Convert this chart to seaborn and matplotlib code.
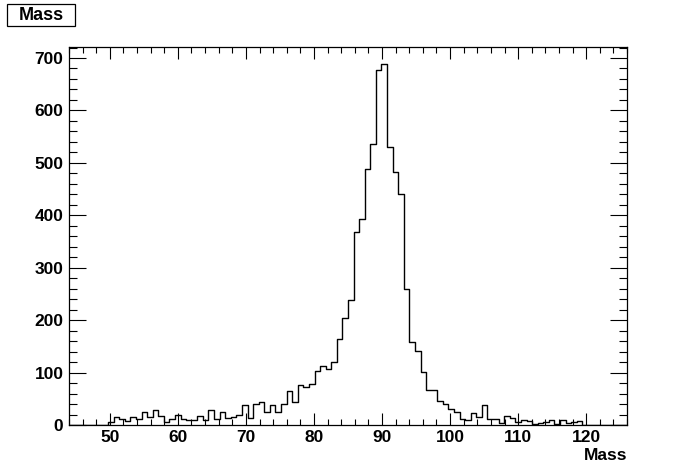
import numpy as np
import pandas as pd
import matplotlib
matplotlib.use("Agg")
import matplotlib.pyplot as plt
from matplotlib.patches import Rectangle
from matplotlib.ticker import MultipleLocator
import seaborn as sns

# ---- data ----
bin_low = 44.0
bin_high = 126.0
n_bins = 100
counts = [
    0, 0, 0, 0, 0, 0, 0, 6, 15, 12,
    7, 15, 12, 25, 15, 29, 18, 6, 12, 20,
    12, 9, 10, 17, 10, 29, 12, 25, 14, 15,
    19, 39, 13, 41, 43, 24, 38, 24, 41, 65,
    43, 76, 72, 78, 103, 112, 106, 120, 164, 204,
    239, 369, 393, 489, 536, 678, 688, 531, 482, 441,
    259, 158, 142, 101, 67, 67, 46, 41, 31, 24,
    11, 9, 22, 15, 38, 11, 11, 3, 17, 14,
    6, 9, 8, 2, 4, 5, 9, 2, 9, 3,
    5, 7, 0, 0, 0, 0, 0, 0, 0, 0,
]
title_text = "Mass"
x_label = "Mass"
y_max = 721

edges = np.linspace(bin_low, bin_high, n_bins + 1)
centers = 0.5 * (edges[:-1] + edges[1:])
df = pd.DataFrame({"mass": centers, "count": counts})

sns.set_style("ticks")
plt.rcParams["font.family"] = ["Liberation Sans", "DejaVu Sans"]
plt.rcParams["font.weight"] = "bold"
for key in ["text.color", "axes.labelcolor", "xtick.color", "ytick.color",
            "axes.edgecolor"]:
    plt.rcParams[key] = "black"

fig = plt.figure(figsize=(6.96, 4.72), dpi=100)
ax = fig.add_axes([69 / 696, 1 - 425 / 472, (627 - 69) / 696, (425 - 47) / 472])

sns.histplot(data=df, x="mass", weights="count", bins=n_bins,
             binrange=(bin_low, bin_high), element="step",
             fill=False, color="black", linewidth=1.0, ax=ax)

ax.set_xlim(bin_low, bin_high)
ax.set_ylim(0, y_max)
ax.xaxis.set_major_locator(MultipleLocator(10))
ax.xaxis.set_minor_locator(MultipleLocator(2))
ax.yaxis.set_major_locator(MultipleLocator(100))
ax.yaxis.set_minor_locator(MultipleLocator(20))

for s in ax.spines.values():
    s.set_visible(True)
    s.set_color("black")
    s.set_linewidth(0.9)

ax.tick_params(axis="x", which="major", direction="in", length=8.6, width=0.8,
               top=True, bottom=True, labelsize=12.5, pad=3.5,
               color="black", labelcolor="black")
ax.tick_params(axis="x", which="minor", direction="in", length=4.3, width=0.8,
               top=True, bottom=True, color="black")
ax.tick_params(axis="y", which="major", direction="in", length=12, width=0.8,
               left=True, right=True, labelsize=12.5, pad=4,
               color="black", labelcolor="black")
ax.tick_params(axis="y", which="minor", direction="in", length=5.8, width=0.8,
               left=True, right=True, color="black")
for lab in ax.get_xticklabels() + ax.get_yticklabels():
    lab.set_fontweight("bold")

ax.set_ylabel("")
ax.set_xlabel(x_label, loc="right", fontsize=12.5, fontweight="bold",
              color="black")
ax.xaxis.set_label_coords(1.0, -0.062)

# title box
fig.patches.append(Rectangle((7 / 696, 1 - 26 / 472), 68 / 696, 22 / 472,
                             transform=fig.transFigure, facecolor="white",
                             edgecolor="black", linewidth=0.9))
fig.text(41 / 696, 1 - 15.5 / 472, title_text, ha="center", va="center",
         fontsize=13, fontweight="bold", color="black")

fig.savefig("out.png", dpi=100)
